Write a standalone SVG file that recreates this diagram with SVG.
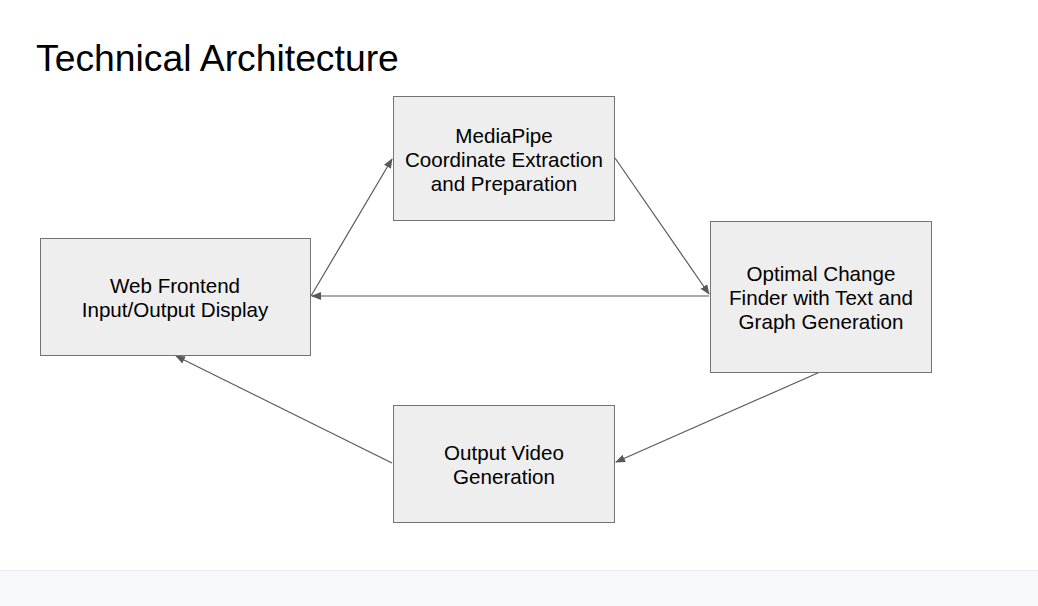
<svg xmlns="http://www.w3.org/2000/svg" width="1038" height="606" viewBox="0 0 1038 606">
<style>
.box{fill:#eeeeee;stroke:#737373;stroke-width:1}
.t{font-family:"Liberation Sans",Arial,sans-serif;font-size:20.6px;fill:#000;text-anchor:middle}
.c{stroke:#595959;stroke-width:1.2;fill:none;marker-end:url(#ah)}
</style>
<defs>
<marker id="ah" viewBox="0 0 10 10" refX="9" refY="5" markerWidth="10" markerHeight="10" markerUnits="userSpaceOnUse" orient="auto">
<path d="M0,1 L10,5 L0,9 Z" fill="#595959"/>
</marker>
</defs>
<rect x="0" y="0" width="1038" height="606" fill="#ffffff"/>
<rect x="0" y="570" width="1038" height="36" fill="#f8f9fa"/>
<line x1="0" y1="570.5" x2="1038" y2="570.5" stroke="#e8e8e8" stroke-width="1"/>
<text x="36" y="71" font-family="Liberation Sans,Arial,sans-serif" font-size="37.3" fill="#000">Technical Architecture</text>
<g id="connectors">
<line class="c" x1="311" y1="296" x2="392" y2="159"/>
<line class="c" x1="615" y1="158" x2="709" y2="294"/>
<line class="c" x1="709" y1="296" x2="312" y2="296"/>
<line class="c" x1="820" y1="372" x2="616" y2="462"/>
<line class="c" x1="392" y1="463" x2="176" y2="356"/>
</g>
<g id="mediapipe">
<rect class="box" x="393.5" y="96.5" width="221" height="124"/>
<text class="t" x="504" y="142.5">MediaPipe</text>
<text class="t" x="504" y="166.5">Coordinate Extraction</text>
<text class="t" x="504" y="190.5">and Preparation</text>
</g>
<g id="web-frontend">
<rect class="box" x="40.5" y="238.5" width="270" height="117"/>
<text class="t" x="175" y="292.5">Web Frontend</text>
<text class="t" x="175" y="316.5">Input/Output Display</text>
</g>
<g id="optimal">
<rect class="box" x="710.5" y="221.5" width="221" height="151"/>
<text class="t" x="821" y="280.5">Optimal Change</text>
<text class="t" x="821" y="304.5">Finder with Text and</text>
<text class="t" x="821" y="328.5">Graph Generation</text>
</g>
<g id="output-video">
<rect class="box" x="393.5" y="405.5" width="221" height="117"/>
<text class="t" x="504" y="459.5">Output Video</text>
<text class="t" x="504" y="483.5">Generation</text>
</g>
</svg>
